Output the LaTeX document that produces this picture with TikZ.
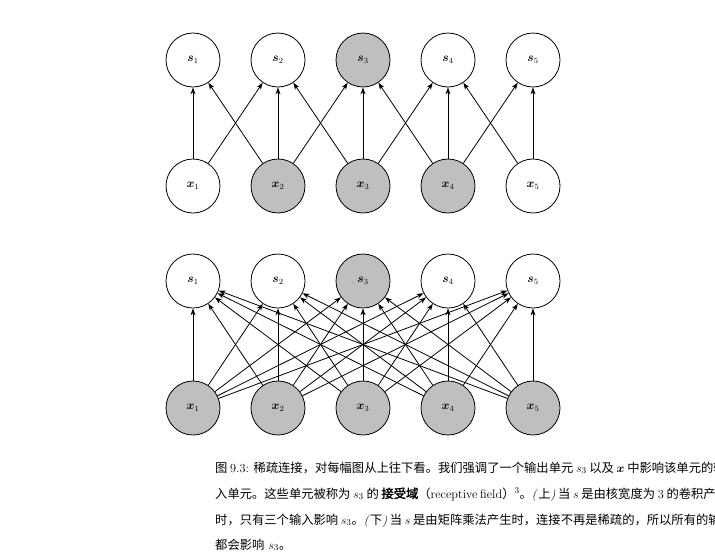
\documentclass[tikz,border=0pt]{standalone}
\usepackage{fontspec}
\usepackage{amsmath}
\newfontfamily\cjk{Noto Sans CJK SC}
\newfontfamily\cjkb[FakeBold=2]{Noto Sans CJK SC}
\usetikzlibrary{arrows.meta}
\tikzset{unit/.style={draw, circle, thick, minimum size=54pt, inner sep=0pt, font=\large},
  hot/.style={fill=black!25},
  edge/.style={draw, thick, -{Stealth[length=7pt,width=5pt]}},
  capline/.style={anchor=base west, inner sep=0pt, font=\fontsize{12.3}{16}\selectfont}}
\begin{document}
\begin{tikzpicture}[x=1pt, y=-1pt]
\useasboundingbox (0,0) rectangle (715,552);
% top: sparse
\node[unit] (a1) at (193,60) {$\boldsymbol{s}_1$};
\node[unit] (a2) at (278,60) {$\boldsymbol{s}_2$};
\node[unit, hot] (a3) at (363,60) {$\boldsymbol{s}_3$};
\node[unit] (a4) at (448,60) {$\boldsymbol{s}_4$};
\node[unit] (a5) at (533,60) {$\boldsymbol{s}_5$};
\node[unit] (b1) at (193,186) {$\boldsymbol{x}_1$};
\node[unit, hot] (b2) at (278,186) {$\boldsymbol{x}_2$};
\node[unit, hot] (b3) at (363,186) {$\boldsymbol{x}_3$};
\node[unit, hot] (b4) at (448,186) {$\boldsymbol{x}_4$};
\node[unit] (b5) at (533,186) {$\boldsymbol{x}_5$};

\foreach \i in {1,...,5} {
  \path[edge] (b\i) -- (a\i);
}
\foreach \i/\j in {1/2,2/1,2/3,3/2,3/4,4/3,4/5,5/4} {
  \path[edge] (b\i) -- (a\j);
}

% bottom: dense
\node[unit] (c1) at (193,281) {$\boldsymbol{s}_1$};
\node[unit] (c2) at (278,281) {$\boldsymbol{s}_2$};
\node[unit, hot] (c3) at (363,281) {$\boldsymbol{s}_3$};
\node[unit] (c4) at (448,281) {$\boldsymbol{s}_4$};
\node[unit] (c5) at (533,281) {$\boldsymbol{s}_5$};
\node[unit, hot] (d1) at (193,408) {$\boldsymbol{x}_1$};
\node[unit, hot] (d2) at (278,408) {$\boldsymbol{x}_2$};
\node[unit, hot] (d3) at (363,408) {$\boldsymbol{x}_3$};
\node[unit, hot] (d4) at (448,408) {$\boldsymbol{x}_4$};
\node[unit, hot] (d5) at (533,408) {$\boldsymbol{x}_5$};

\foreach \i in {1,...,5} {
  \foreach \j in {1,...,5} {
    \path[edge] (d\i) -- (c\j);
  }
}

% caption
\node[capline] (t1) at (215,472) {\hbox to 490pt{{\cjk 图} 9.3: {\cjk 稀疏连接，对每幅图从上往下看。我们强调了一个输出单元} $s_3$ {\cjk 以及} $\boldsymbol{x}$ {\cjk 中影响该单元的输}}};
\node[capline] (t2) at (215,498) {\hbox to 490pt{{\cjk 入单元。这些单元被称为} $s_3$ {\cjk 的} {\cjkb 接受域}{\cjk （}receptive field{\cjk ）}$^3${\cjk 。}\textit{(}{\cjk 上}\textit{)} {\cjk 当} $s$ {\cjk 是由核宽度为} 3 {\cjk 的卷积产生}}};
\node[capline] (t3) at (215,524) {\hbox to 490pt{{\cjk 时，只有三个输入影响} $s_3${\cjk 。}\textit{(}{\cjk 下}\textit{)} {\cjk 当} $s$ {\cjk 是由矩阵乘法产生时，连接不再是稀疏的，所以所有的输入}}};
\node[capline] (t4) at (215,549) {{\cjk 都会影响} $s_3${\cjk 。}};
\end{tikzpicture}
\end{document}
